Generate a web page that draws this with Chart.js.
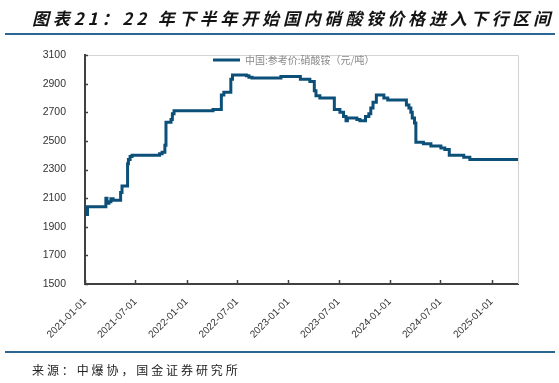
<!DOCTYPE html>
<html>
<head>
<meta charset="utf-8">
<script src="https://cdn.jsdelivr.net/npm/chart.js@4.4.1/dist/chart.umd.min.js"></script>
<style>
  html, body { margin: 0; padding: 0; background: #fff; }
  #wrap { position: relative; width: 559px; height: 383px; overflow: hidden; }
  #c { position: absolute; left: 0; top: 0; }
  #title { position: absolute; left: 32px; top: 5px; white-space: nowrap;
    font: italic bold 17px "Noto Sans CJK SC", sans-serif; color: #141414; letter-spacing: 2.5px; }
  .rule { position: absolute; left: 5px; width: 550px; height: 2px; background: #2b6592; }
  #source { position: absolute; left: 32px; top: 361px; white-space: nowrap;
    font: 12px "Noto Sans CJK SC", sans-serif; color: #222; letter-spacing: 2.9px; }
</style>
</head>
<body>
<div id="wrap">
  <canvas id="c" width="559" height="383"></canvas>
  <div id="title">图表21：22 年下半年开始国内硝酸铵价格进入下行区间</div>
  <div class="rule" style="top:33px"></div>
  <div class="rule" style="top:351px"></div>
  <div id="source">来源：中爆协，国金证券研究所</div>
</div>
<script>
// ---- data ----
const seriesLabel = '中国:参考价:硝酸铵（元/吨）';
const dates = [
  '2021-01-01','2021-01-10','2021-03-17','2021-03-21','2021-03-28','2021-04-04','2021-04-12',
  '2021-05-09','2021-05-14','2021-06-03','2021-06-06','2021-06-12','2021-06-19','2021-09-26',
  '2021-10-05','2021-10-15','2021-10-19','2021-11-06','2021-11-11','2021-11-17','2022-04-06',
  '2022-05-06','2022-05-15','2022-06-09','2022-06-15','2022-08-04','2022-08-13','2022-08-24',
  '2022-12-06','2023-02-14','2023-03-20','2023-04-05','2023-04-11','2023-04-25','2023-06-16',
  '2023-07-06','2023-07-19','2023-07-28','2023-08-02','2023-09-05','2023-09-16','2023-10-06',
  '2023-10-18','2023-10-25','2023-11-02','2023-11-14','2023-12-11','2023-12-25','2024-03-01',
  '2024-03-10','2024-03-17','2024-03-22','2024-03-30','2024-04-04','2024-05-01','2024-05-28',
  '2024-07-03','2024-07-17','2024-08-02','2024-09-23','2024-10-15','2025-04-06'
];
const prices = [
  1985,2040,2100,2065,2075,2095,2085,
  2140,2185,2340,2370,2390,2400,2410,
  2420,2470,2630,2650,2690,2710,2720,
  2820,2840,2930,2960,2955,2945,2940,
  2950,2930,2915,2850,2815,2800,2720,
  2700,2670,2640,2660,2650,2640,2670,
  2690,2730,2770,2820,2800,2785,2750,
  2730,2700,2660,2625,2490,2480,2465,
  2450,2440,2400,2385,2370,2370
];
const tickDates = ['2021-01-01','2021-07-01','2022-01-01','2022-07-01','2023-01-01',
                   '2023-07-01','2024-01-01','2024-07-01','2025-01-01'];
const axisStart = '2021-01-01';
const axisEnd = '2025-04-06';
const yMin = 1500, yMax = 3100, yStep = 200;

// ---- helpers ----
const toUTC = s => Date.UTC(+s.slice(0,4), +s.slice(5,7) - 1, +s.slice(8,10));
const dayOf = s => Math.round((toUTC(s) - toUTC(axisStart)) / 86400000);
const points = dates.map((d, i) => ({ x: dayOf(d), y: prices[i] }));
const tickDays = tickDates.map(dayOf);

const lineColor = '#0c5079';
const axisColor = '#404040';

const decor = {
  id: 'decor',
  beforeDatasetsDraw(chart) {
    const { ctx, chartArea: a } = chart;
    ctx.save();
    ctx.strokeStyle = '#d4d4d4';
    ctx.lineWidth = 1;
    ctx.beginPath();
    ctx.moveTo(a.left, a.top + 0.5);
    ctx.lineTo(a.right + 0.5, a.top + 0.5);
    ctx.lineTo(a.right + 0.5, a.bottom);
    ctx.stroke();
    // inward tick marks
    ctx.strokeStyle = axisColor;
    ctx.lineWidth = 1.5;
    const xs = chart.scales.x, ys = chart.scales.y;
    ctx.beginPath();
    tickDays.forEach(v => {
      const px = Math.round(xs.getPixelForValue(v)) + 0.5;
      ctx.moveTo(px, a.bottom);
      ctx.lineTo(px, a.bottom - 4);
    });
    ys.ticks.forEach(t => {
      const py = Math.round(ys.getPixelForValue(t.value)) + 0.5;
      ctx.moveTo(a.left, py);
      ctx.lineTo(a.left + 3, py);
    });
    ctx.stroke();
    ctx.restore();
  },
  afterDraw(chart) {
    const { ctx, chartArea: a } = chart;
    const ds = chart.data.datasets[0];
    ctx.save();
    const y = a.top + 5;
    const x0 = a.left + 128;
    ctx.strokeStyle = ds.borderColor;
    ctx.lineWidth = 3;
    ctx.beginPath();
    ctx.moveTo(x0, y);
    ctx.lineTo(x0 + 27, y);
    ctx.stroke();
    ctx.fillStyle = '#8a8a8a';
    ctx.font = '10px "Noto Sans CJK SC", sans-serif';
    ctx.textBaseline = 'middle';
    ctx.fillText(ds.label, x0 + 32, y);
    ctx.restore();
  }
};

new Chart(document.getElementById('c'), {
  type: 'line',
  data: {
    datasets: [{
      label: seriesLabel,
      data: points,
      borderColor: lineColor,
      backgroundColor: lineColor,
      borderWidth: 3,
      pointRadius: 0,
      stepped: true,
      fill: false
    }]
  },
  options: {
    responsive: false,
    animation: false,
    events: [],
    layout: { padding: { left: 0, top: 55, right: 41, bottom: 0 } },
    plugins: { legend: { display: false }, tooltip: { enabled: false }, title: { display: false } },
    scales: {
      x: {
        type: 'linear',
        min: 0,
        max: dayOf(axisEnd),
        afterFit(s) { s.height = 99; },
        afterBuildTicks(s) { s.ticks = tickDays.map(v => ({ value: v })); },
        grid: { display: false },
        border: { color: axisColor, width: 2 },
        ticks: {
          autoSkip: false,
          maxRotation: 45,
          minRotation: 45,
          padding: 4,
          color: '#333',
          font: { family: '"Liberation Sans", Arial, sans-serif', size: 10 },
          callback: (v) => { const i = tickDays.indexOf(v); return i >= 0 ? tickDates[i] : ''; }
        }
      },
      y: {
        min: yMin,
        max: yMax,
        afterFit(s) { s.width = 85; },
        grid: { display: false },
        border: { color: axisColor, width: 2 },
        ticks: {
          stepSize: yStep,
          padding: 11,
          color: '#333',
          font: { family: '"Liberation Sans", Arial, sans-serif', size: 10.5 },
          callback: (v) => String(v)
        }
      }
    }
  },
  plugins: [decor]
});

// fit title width to reference span
(function () {
  const t = document.getElementById('title');
  const target = 522;
  const n = t.textContent.length;
  const w = t.getBoundingClientRect().width;
  const cur = parseFloat(getComputedStyle(t).letterSpacing) || 0;
  t.style.letterSpacing = (cur + (target - w) / n) + 'px';
})();
</script>
</body>
</html>
